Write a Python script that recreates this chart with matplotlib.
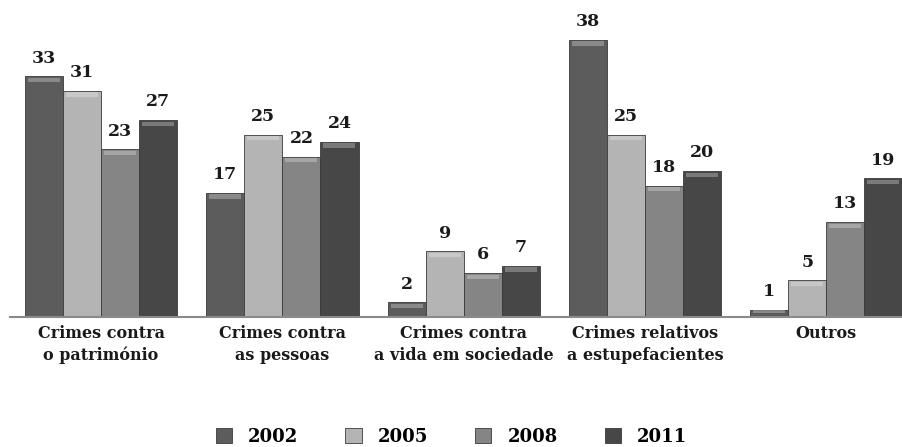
import matplotlib
matplotlib.use('Agg')
import matplotlib.pyplot as plt
from matplotlib.patches import Rectangle
import numpy as np

# data
categories = ['Crimes contra\no património', 'Crimes contra\nas pessoas',
              'Crimes contra\na vida em sociedade', 'Crimes relativos\na estupefacientes',
              'Outros']
years = ['2002', '2005', '2008', '2011']
v2002 = [33, 17, 2, 38, 1]
v2005 = [31, 25, 9, 25, 5]
v2008 = [23, 22, 6, 18, 13]
v2011 = [27, 24, 7, 20, 19]
colors = ['#5c5c5c', '#b4b4b4', '#858585', '#474747']

plt.rcParams['font.family'] = ['DejaVu Serif']
plt.rcParams['font.weight'] = 'bold'

fig = plt.figure(figsize=(9.03, 4.47), dpi=100)
ax = fig.add_axes([0.0115, 0.291, 1.004, 0.652])

series = [v2002, v2005, v2008, v2011]
x = np.arange(len(categories))
w = 0.21
for i, vals in enumerate(series):
    pos = x + (i - 1.5) * w
    bars = ax.bar(pos, vals, width=w, color=colors[i], edgecolor='#3a3a3a',
                  linewidth=0.6, zorder=2)
    for b, v in zip(bars, vals):
        # small light bevel along the top of each bar
        hl = min(0.6, b.get_height() * 0.35)
        ax.add_patch(Rectangle((b.get_x() + w * 0.08, b.get_height() - hl * 1.3),
                               w * 0.84, hl, color='white', alpha=0.28,
                               linewidth=0, zorder=3))
        ax.annotate(str(v), (b.get_x() + w / 2, b.get_height()),
                    xytext=(0, 7), textcoords='offset points',
                    ha='center', va='bottom', fontsize=12.5, fontweight='bold',
                    color='#1a1a1a', annotation_clip=False)

ax.set_xlim(-0.5, 4.5)
ax.set_ylim(0, 40)
for s in ['top', 'right', 'left']:
    ax.spines[s].set_visible(False)
ax.spines['bottom'].set_color('#8a8a8a')
ax.spines['bottom'].set_linewidth(1.5)
ax.set_yticks([])
ax.set_xticks(x)
ax.set_xticklabels(categories, fontsize=11.5, fontweight='bold', color='#1a1a1a',
                   linespacing=1.35)
ax.tick_params(axis='x', length=0, pad=6)

handles = [Rectangle((0, 0), 1, 1, facecolor=c, edgecolor='#3a3a3a', linewidth=0.6)
           for c in colors]
fig.legend(handles, years, loc='lower center', ncol=4, frameon=False,
           bbox_to_anchor=(0.5, -0.034), fontsize=13, handlelength=0.9,
           handleheight=0.9, handletextpad=0.9, columnspacing=2.6)

fig.savefig('out.png', dpi=100)
